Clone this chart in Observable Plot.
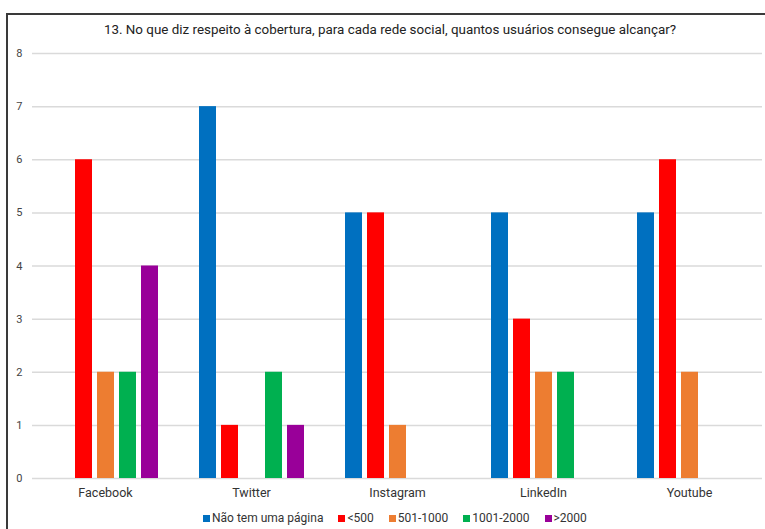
<!DOCTYPE html>
<html>
<head>
<meta charset="utf-8">
<script src="https://cdn.jsdelivr.net/npm/d3@7"></script>
<script src="https://cdn.jsdelivr.net/npm/@observablehq/plot@0.6"></script>
<style>
  html, body { margin: 0; padding: 0; background: #fff; }
  body { width: 765px; height: 529px; position: relative; overflow: hidden; font-family: Roboto, "Noto Sans", sans-serif; }
  #frame { position: absolute; left: 6px; top: 13px; width: 780px; height: 540px; border-top: 2px solid #3a3a3a; border-left: 2px solid #3a3a3a; }
  #title { position: absolute; top: 22px; left: 0; width: 780px; text-align: center; font-size: 13.4px; color: #222; letter-spacing: 0px; }
  #chart { position: absolute; left: 0; top: 0; }
  #legend { position: absolute; top: 511px; left: 203px; display: flex; align-items: center; font-size: 12px; color: #333; white-space: nowrap; }
  #legend .item { display: flex; align-items: center; margin-right: 15px; }
  #legend .sw { width: 7px; height: 7px; margin-right: 2px; }
</style>
</head>
<body>
<div id="frame"></div>
<div id="chart"></div>
<div id="title">13. No que diz respeito à cobertura, para cada rede social, quantos usuários consegue alcançar?</div>
<div id="legend"></div>
<script>
const categories = ["Facebook", "Twitter", "Instagram", "LinkedIn", "Youtube"];
const series = ["Não tem uma página", "<500", "501-1000", "1001-2000", ">2000"];
const colors = ["#0070C0", "#FF0000", "#ED7D31", "#00B050", "#990099"];
const naoTem = [0, 7, 5, 5, 5];
const lt500 = [6, 1, 5, 3, 6];
const r501to1000 = [2, 0, 1, 2, 2];
const r1001to2000 = [2, 2, 0, 2, 0];
const gt2000 = [4, 1, 0, 0, 0];
const yTicks = [0, 1, 2, 3, 4, 5, 6, 7, 8];

const seriesValues = [naoTem, lt500, r501to1000, r1001to2000, gt2000];
const data = [];
categories.forEach((c, i) => {
  series.forEach((s, j) => {
    data.push({ category: c, series: s, value: seriesValues[j][i] });
  });
});

const chart = Plot.plot({
  width: 765,
  height: 500,
  marginLeft: 31,
  marginRight: 2,
  marginTop: 53,
  marginBottom: 22,
  style: { fontFamily: "Roboto, sans-serif", background: "transparent" },
  fx: { domain: categories, padding: 0, label: null, axis: null },
  x: { domain: series, paddingInner: 0.25, paddingOuter: 0.878, axis: null },
  y: { domain: [0, 8], label: null, axis: null },
  color: { domain: series, range: colors },
  marks: [
    Plot.gridY(yTicks, { stroke: "#dadada", strokeOpacity: 1, strokeWidth: 1.5 }),
    Plot.axisY(yTicks, { tickSize: 0, tickPadding: 10, fontSize: 11, fill: "#444", label: null, tickFormat: "d" }),
    Plot.axisFx({ anchor: "bottom", tickSize: 0, tickPadding: 10, fontSize: 12.5, fill: "#333", label: null }),
    Plot.barY(data.filter(d => d.value > 0), { fx: "category", x: "series", y: "value", fill: "series" })
  ]
});
document.getElementById("chart").appendChild(chart);

const legend = document.getElementById("legend");
series.forEach((s, j) => {
  const item = document.createElement("div");
  item.className = "item";
  const sw = document.createElement("span");
  sw.className = "sw";
  sw.style.background = colors[j];
  const t = document.createElement("span");
  t.textContent = s;
  item.appendChild(sw);
  item.appendChild(t);
  legend.appendChild(item);
});
</script>
</body>
</html>
